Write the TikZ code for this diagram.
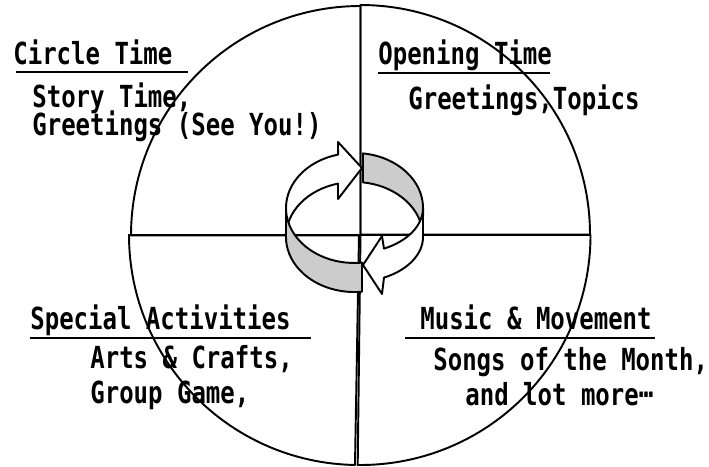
\documentclass[tikz,border=0pt]{standalone}
\usepackage{fontspec}
\newfontfamily\gothic[FakeStretch=0.79]{DejaVu Sans Mono}
\usetikzlibrary{positioning}

\begin{document}
\begin{tikzpicture}[x=0.02cm,y=-0.02cm,line join=round]
  \tikzstyle{sector}=[draw,line width=1.1pt]
  \tikzstyle{ribbon}=[draw,line width=1.1pt]
  \tikzstyle{txt}=[inner sep=0pt,anchor=base west,font=\gothic\bfseries\fontsize{17.3}{20}\selectfont]
  \tikzstyle{uline}=[line width=1.7pt]
  \useasboundingbox (0,0) rectangle (709,466);
  % the wheel, four quarters
  \draw[sector] (360.5,235.5) -- (131,235.5) arc[start angle=180,end angle=270,radius=229.5] -- cycle;
  \draw[sector] (360.5,234.5) -- (360.5,5) arc[start angle=270,end angle=360,radius=229.5] -- cycle;
  \draw[sector] (359,235) -- (129,235) arc[start angle=180,end angle=91,radius=230] -- cycle;
  \draw[sector] (360.5,235) -- (590.5,235) arc[start angle=0,end angle=90.7,radius=230] -- cycle;
  % round arrows in the middle, back pieces first
  \draw[ribbon,fill=black!20] (363,153.4) arc[start angle=277.1,end angle=360,x radius=68.5,y radius=55]
    -- (423,237) arc[start angle=0,end angle=-82.9,x radius=68.5,y radius=55] -- cycle;
  \draw[ribbon,fill=white] (286,208) arc[start angle=180,end angle=256.1,x radius=68.5,y radius=55]
    -- (338,142) -- (362,168) -- (338,199) -- (338,183.6)
    arc[start angle=256.1,end angle=180,x radius=68.5,y radius=55] -- cycle;
  \draw[ribbon,fill=white] (423,208) arc[start angle=0,end angle=64.5,x radius=68.5,y radius=45]
    -- (382,236) -- (363,265) -- (382,294) -- (384,277.6)
    arc[start angle=64.5,end angle=0,x radius=68.5,y radius=45] -- cycle;
  \draw[ribbon,fill=black!20] (286,208) arc[start angle=180,end angle=83.7,x radius=68.5,y radius=55]
    -- (362,291.7) arc[start angle=83.7,end angle=180,x radius=68.5,y radius=55] -- cycle;
  % texts
  \node[txt] (circ) at (13,65) {Circle Time};
  \draw[uline] (16,72) -- (188,72);
  \node[txt] (circa) at (32,108) {Story Time,};
  \node[txt] (circb) at (32,135) {Greetings (See You!)};
  \node[txt] (open) at (378,65) {Opening Time};
  \draw[uline] (378,73) -- (550,73);
  \node[txt] (opena) at (408,110) {Greetings,Topics};
  \node[txt] (spec) at (30,329) {Special Activities};
  \draw[uline] (30,338) -- (311,338);
  \node[txt] (speca) at (90,368) {Arts \& Crafts,};
  \node[txt] (specb) at (90,403) {Group Game,};
  \node[txt] (music) at (420,329) {Music \& Movement};
  \draw[uline] (405,338) -- (655,338);
  \node[txt] (musica) at (433,370) {Songs of the Month,};
  \node[txt] (musicb) at (465,405) {and lot more\raisebox{.25em}{…}};
\end{tikzpicture}
\end{document}
